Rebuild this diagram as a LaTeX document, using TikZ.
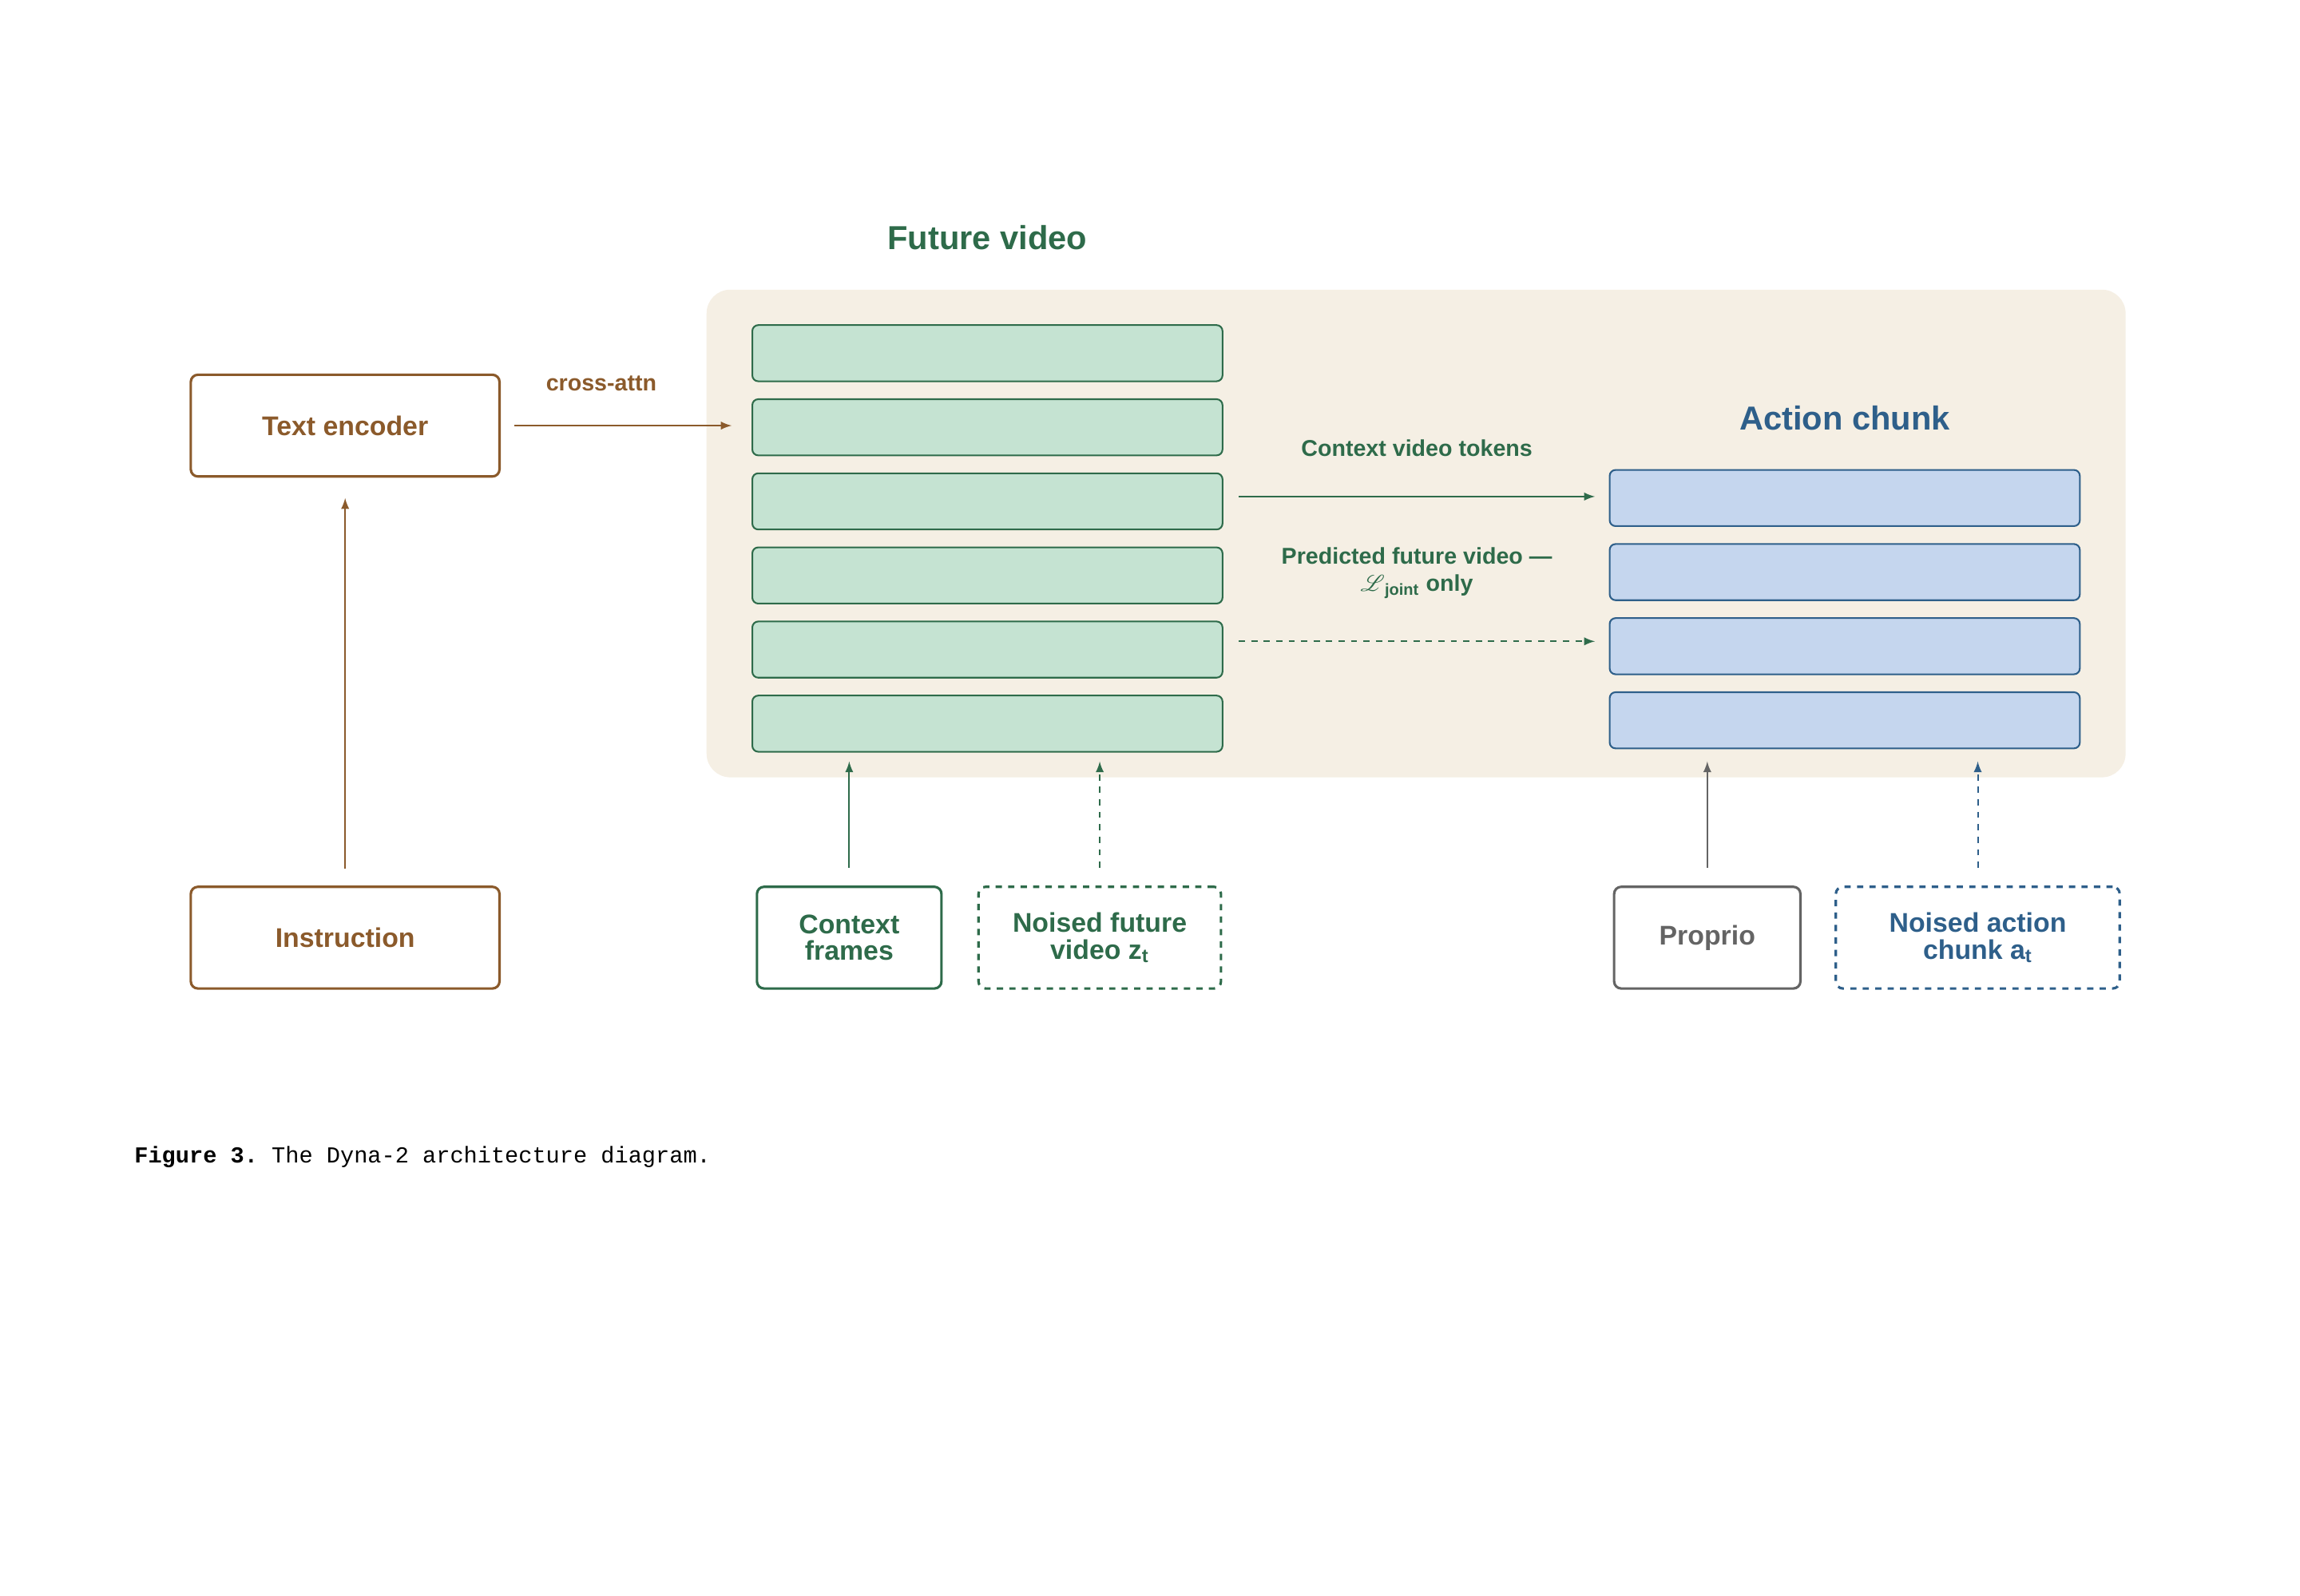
\documentclass[tikz,border=0pt]{standalone}
\usepackage{fontspec}
\setmainfont{Liberation Sans}
\setmonofont{Liberation Mono}
\usepackage{mathrsfs}
\usetikzlibrary{positioning}
\definecolor{mgreen}{RGB}{46,107,74}
\definecolor{mlgreen}{RGB}{197,227,210}
\definecolor{mblue}{RGB}{46,95,138}
\definecolor{mlblue}{RGB}{197,214,238}
\definecolor{mbrown}{RGB}{139,90,43}
\definecolor{mgrey}{RGB}{100,100,100}
\definecolor{mtan}{RGB}{245,239,228}

\begin{document}
\begin{tikzpicture}[x=0.025cm, y=-0.025cm, font=\bfseries\fontsize{13}{15}\selectfont,
    bar/.style={draw, thick, rounded corners=1mm, minimum width=7.95cm, minimum height=0.95cm, inner sep=0pt},
    gbar/.style={bar, draw=mgreen, fill=mlgreen},
    bbar/.style={bar, draw=mblue, fill=mlblue},
    inbox/.style={draw, very thick, rounded corners=1.2mm, minimum height=1.72cm, align=center, inner sep=0pt},
    label/.style={font=\bfseries\fontsize{11}{13}\selectfont, align=center},
    title/.style={font=\bfseries\fontsize{16}{18}\selectfont},
    arrow/.style={-latex, thick},
]
\useasboundingbox (0,0) rectangle (1556,1080);
\fill[mtan, rounded corners=4mm] (478,196) rectangle (1438,526);

% video tokens
\node[title, text=mgreen] (vtitle) at (668,161) {Future video};
\node[gbar] (v1) at (668,239) {};
\node[gbar, below=0.275cm of v1] (v2) {};
\node[gbar, below=0.275cm of v2] (v3) {};
\node[gbar, below=0.275cm of v3] (v4) {};
\node[gbar, below=0.275cm of v4] (v5) {};
\node[gbar, below=0.275cm of v5] (v6) {};

% action tokens
\node[title, text=mblue] (atitle) at (1248,283) {Action chunk};
\node[bbar] (a1) at (1248,337) {};
\node[bbar, below=0.275cm of a1] (a2) {};
\node[bbar, below=0.275cm of a2] (a3) {};
\node[bbar, below=0.275cm of a3] (a4) {};

% text branch
\node[inbox, draw=mbrown, text=mbrown, minimum width=5.22cm] (enc) at (233.5,288) {Text encoder};
\node[inbox, draw=mbrown, text=mbrown, minimum width=5.22cm] (instr) at (233.5,634.5) {Instruction};
\coordinate (encin) at (233.5,337);
\coordinate (instrout) at (233.5,588);
\draw[arrow, mbrown] (instrout) -- (encin);
\coordinate (xa0) at (348,288);
\coordinate (xa1) at (495,288);
\draw[arrow, mbrown] (xa0) -- node[label, above=0.45cm, pos=0.4, text=mbrown] {cross-attn} (xa1);

% between streams
\coordinate (cv0) at (838,336);
\coordinate (cv1) at (1079,336);
\draw[arrow, mgreen] (cv0) -- node[label, above=0.55cm, text=mgreen] {Context video tokens} (cv1);
\coordinate (pv0) at (838,434);
\coordinate (pv1) at (1079,434);
\draw[arrow, mgreen, dashed] (pv0) -- node[label, above=0.6cm, text=mgreen] {Predicted future video ---\\$\mathscr{L}$\textsubscript{joint} only} (pv1);

% inputs
\node[inbox, draw=mgreen, text=mgreen, minimum width=3.12cm] (ctx) at (574.5,634.5) {Context\\[-2pt]frames};
\node[inbox, draw=mgreen, text=mgreen, dashed, minimum width=4.1cm] (nvid) at (744,634.5) {Noised future\\[-2pt]video z\textsubscript{t}};
\node[inbox, draw=mgrey, text=mgrey, minimum width=3.15cm] (prop) at (1155,634.5) {Proprio};
\node[inbox, draw=mblue, text=mblue, dashed, minimum width=4.8cm] (nact) at (1338,634.5) {Noised action\\[-2pt]chunk a\textsubscript{t}};

\draw[arrow, mgreen] ([yshift=0.3cm]ctx.north) -- ++(0,-72);
\draw[arrow, mgreen, dashed] ([yshift=0.3cm]nvid.north) -- ++(0,-72);
\draw[arrow, mgrey] ([yshift=0.3cm]prop.north) -- ++(0,-72);
\draw[arrow, mblue, dashed] ([yshift=0.3cm]nact.north) -- ++(0,-72);

\node[anchor=west, font=\ttfamily\fontsize{11}{13}\selectfont] (caption) at (86,783) {\textbf{Figure 3.} The Dyna-2 architecture diagram.};
\end{tikzpicture}
\end{document}
